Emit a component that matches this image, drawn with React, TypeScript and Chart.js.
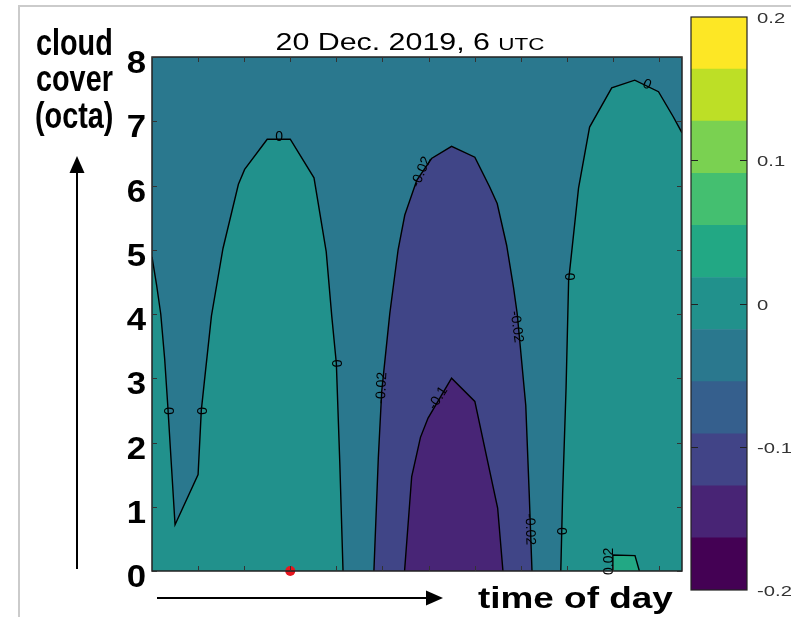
import React, { useEffect, useRef } from 'react';
import { Chart, registerables } from 'chart.js';

Chart.register(...registerables);

// ---------- axes ----------
const hourMin = 0;
const hourMax = 23;
const octaMin = 0;
const octaMax = 8;
const xTickHours = [2, 4, 6, 8, 10, 12, 14, 16, 18, 20, 22];
const yTickOctas = [0, 1, 2, 3, 4, 5, 6, 7, 8];
const yTickLabels = ['0', '1', '2', '3', '4', '5', '6', '7', '8'];

// ---------- contour lines (hour, octa) ----------
const zeroContourWest: number[][] = [
  [0, 4.89], [0.2, 4.45], [0.38, 4.0], [0.55, 3.3], [0.68, 2.6], [0.85, 1.6], [1.0, 0.72],
  [2.0, 1.5], [2.14, 2.5], [2.27, 2.94], [2.58, 3.97], [3.08, 5.02], [3.75, 6.02], [4.02, 6.25],
  [5.0, 6.72], [6.0, 6.72], [7.03, 6.12], [7.56, 4.97], [7.8, 3.97], [8.0, 3.23], [8.15, 1.68], [8.29, 0],
];
const zeroWestClosure: number[][] = [[0, 0]];

const minus002Contour: number[][] = [
  [9.63, 0], [9.82, 1.75], [9.97, 2.8], [10.32, 4.01], [10.68, 5.0], [10.97, 5.54], [11.49, 6.08],
  [12.13, 6.42], [13.0, 6.61], [14.01, 6.44], [14.65, 5.98], [14.98, 5.72], [15.39, 5.07],
  [15.69, 4.41], [15.85, 4.0], [16.22, 2.58], [16.37, 1.2], [16.49, 0],
];

const minus01Contour: number[][] = [
  [10.96, 0], [11.27, 1.47], [11.65, 2.08], [11.98, 2.38], [13.0, 3.0], [14.01, 2.64],
  [14.54, 1.75], [15.0, 0.98], [15.23, 0],
];

const zeroContourEast: number[][] = [
  [17.74, 0], [17.82, 1.2], [17.97, 2.86], [18.08, 4.52], [18.51, 5.96], [18.99, 6.91],
  [19.95, 7.52], [20.95, 7.64], [21.98, 7.46], [22.62, 7.07], [23, 6.82],
];
const zeroEastClosure: number[][] = [[23, 0]];

const plus002Contour: number[][] = [[20, 0], [20, 0.25], [20.96, 0.24], [21.15, 0]];

// ---------- contour labels ----------
const contourLabelTexts = ['0', '0', '0', '0', '0', '0', '0', '-0.02', '-0.02', '-0.02', '-0.02', '-0.1', '0.02'];
const contourLabelHours = [0.69, 2.14, 5.52, 8.0, 18.08, 17.75, 21.48, 9.97, 11.69, 15.82, 16.4, 12.42, 19.84];
const contourLabelOctas = [2.49, 2.49, 6.75, 3.23, 4.58, 0.62, 7.57, 2.85, 6.21, 3.8, 0.65, 2.69, 0.15];
const contourLabelAngles = [90, 90, 0, 90, 90, 90, 25, -87, -67, 82, 88, -58, -90];

// ---------- marker ----------
const markerHours = [6];
const markerOctas = [0];

// ---------- region colours ----------
const backgroundColor = '#2A788E';
const zeroRegionColor = '#21918C';
const minus002RegionColor = '#404587';
const minus01RegionColor = '#482576';
const plus002RegionColor = '#22A884';

// ---------- colorbar ----------
const colorbarEdges = [-0.2, -0.16364, -0.12727, -0.09091, -0.05455, -0.01818, 0.01818, 0.05455, 0.09091, 0.12727, 0.16364, 0.2];
const colorbarColors = ['#440154', '#482475', '#414487', '#355F8D', '#2A788E', '#21918C', '#22A884', '#44BF70', '#7AD151', '#BDDF26', '#FDE725'];
const colorbarTicks = [-0.2, -0.1, 0, 0.1, 0.2];
const colorbarTickLabels = ['-0.2', '-0.1', '0', '0.1', '0.2'];

const FONT = "'Liberation Sans', Arial, Helvetica, sans-serif";

const toPts = (arr: number[][]) => arr.map(([x, y]) => ({ x, y }));

function fillDs(pts: number[][], color: string, order: number) {
  return {
    data: toPts(pts), fill: 'shape', backgroundColor: color, borderWidth: 0,
    pointRadius: 0, tension: 0, order,
  };
}
function lineDs(pts: number[][], order: number) {
  return {
    data: toPts(pts), fill: false, borderColor: '#000', borderWidth: 1.4,
    pointRadius: 0, tension: 0, order,
  };
}

function drawArrow(ctx: CanvasRenderingContext2D, x1: number, y1: number, x2: number, y2: number) {
  const ang = Math.atan2(y2 - y1, x2 - x1);
  const hl = 17, hw = 7.5;
  const bx = x2 - hl * Math.cos(ang), by = y2 - hl * Math.sin(ang);
  ctx.save();
  ctx.strokeStyle = '#000';
  ctx.fillStyle = '#000';
  ctx.lineWidth = 2;
  ctx.beginPath();
  ctx.moveTo(x1, y1);
  ctx.lineTo(bx, by);
  ctx.stroke();
  ctx.beginPath();
  ctx.moveTo(x2, y2);
  ctx.lineTo(bx + hw * Math.sin(ang), by - hw * Math.cos(ang));
  ctx.lineTo(bx - hw * Math.sin(ang), by + hw * Math.cos(ang));
  ctx.closePath();
  ctx.fill();
  ctx.restore();
}

function scaledText(ctx: CanvasRenderingContext2D, text: string, x: number, y: number, font: string, sx: number, align: CanvasTextAlign) {
  ctx.save();
  ctx.font = font;
  ctx.textAlign = align;
  ctx.textBaseline = 'alphabetic';
  ctx.translate(x, y);
  ctx.scale(sx, 1);
  ctx.fillText(text, 0, 0);
  ctx.restore();
}

const mainPlugin = {
  id: 'contourDecor',
  beforeDatasetsDraw(chart: any) {
    const { ctx, chartArea: a } = chart;
    ctx.save();
    ctx.fillStyle = backgroundColor;
    ctx.fillRect(a.left, a.top, a.right - a.left, a.bottom - a.top);
    ctx.restore();
  },
  afterDraw(chart: any) {
    const { ctx, chartArea: a } = chart;
    const xs = chart.scales.x;
    const ys = chart.scales.y;

    // contour labels
    ctx.save();
    ctx.fillStyle = '#000';
    ctx.font = `14px ${FONT}`;
    ctx.textAlign = 'center';
    ctx.textBaseline = 'middle';
    contourLabelTexts.forEach((t, i) => {
      const px = xs.getPixelForValue(contourLabelHours[i]);
      const py = ys.getPixelForValue(contourLabelOctas[i]);
      ctx.save();
      ctx.translate(px, py);
      ctx.rotate((contourLabelAngles[i] * Math.PI) / 180);
      ctx.fillText(t, 0, 0);
      ctx.restore();
    });
    ctx.restore();

    // frame
    ctx.save();
    ctx.strokeStyle = '#222';
    ctx.lineWidth = 1.5;
    ctx.strokeRect(a.left, a.top, a.right - a.left, a.bottom - a.top);
    // inward ticks
    ctx.lineWidth = 1;
    ctx.strokeStyle = '#333';
    ctx.beginPath();
    xTickHours.forEach((h) => {
      const px = Math.round(xs.getPixelForValue(h)) + 0.5;
      ctx.moveTo(px, a.bottom); ctx.lineTo(px, a.bottom - 5);
      ctx.moveTo(px, a.top); ctx.lineTo(px, a.top + 5);
    });
    yTickOctas.forEach((v) => {
      const py = Math.round(ys.getPixelForValue(v)) + 0.5;
      ctx.moveTo(a.left, py); ctx.lineTo(a.left + 5, py);
      ctx.moveTo(a.right, py); ctx.lineTo(a.right - 5, py);
    });
    ctx.stroke();
    ctx.restore();

    // y tick labels
    ctx.fillStyle = '#000';
    yTickOctas.forEach((v, i) => {
      const py = ys.getPixelForValue(v);
      scaledText(ctx, yTickLabels[i], a.left - 6, py + 16, `bold 31px ${FONT}`, 1.12, 'right');
    });

    // title
    ctx.save();
    const sx = 1.32;
    ctx.font = `23px ${FONT}`;
    const w1 = ctx.measureText('20 Dec. 2019, 6 ').width;
    ctx.font = `17px ${FONT}`;
    const w2 = ctx.measureText('UTC').width;
    const total = (w1 + w2) * sx;
    const startX = 410 - total / 2;
    ctx.restore();
    scaledText(ctx, '20 Dec. 2019, 6 ', startX, 49.5, `23px ${FONT}`, sx, 'left');
    scaledText(ctx, 'UTC', startX + w1 * sx, 49.5, `17px ${FONT}`, sx, 'left');

    // y axis label
    const yl = `bold 36px ${FONT}`;
    scaledText(ctx, 'cloud', 36, 55, yl, 0.8, 'left');
    scaledText(ctx, 'cover', 36, 91, yl, 0.8, 'left');
    scaledText(ctx, '(octa)', 35, 128, yl, 0.8, 'left');

    // x axis label
    scaledText(ctx, 'time of day', 478, 608, `bold 30px ${FONT}`, 1.23, 'left');

    // arrows
    drawArrow(ctx, 77, 569, 77, 156);
    drawArrow(ctx, 157, 598, 443, 598);
  },
};

const colorbarPlugin = {
  id: 'colorbarDecor',
  afterDraw(chart: any) {
    const { ctx, chartArea: a } = chart;
    const ys = chart.scales.y;
    ctx.save();
    ctx.strokeStyle = '#222';
    ctx.lineWidth = 1.2;
    ctx.strokeRect(a.left, a.top, a.right - a.left, a.bottom - a.top);
    ctx.beginPath();
    colorbarTicks.forEach((v) => {
      if (v <= colorbarEdges[0] || v >= colorbarEdges[colorbarEdges.length - 1]) return;
      const py = Math.round(ys.getPixelForValue(v)) + 0.5;
      ctx.moveTo(a.left, py); ctx.lineTo(a.left + 7, py);
      ctx.moveTo(a.right, py); ctx.lineTo(a.right - 7, py);
    });
    ctx.stroke();
    ctx.restore();
    ctx.fillStyle = '#333';
    colorbarTicks.forEach((v, i) => {
      const py = ys.getPixelForValue(v);
      scaledText(ctx, colorbarTickLabels[i], a.right + 10, py + 6, `15px ${FONT}`, 1.35, 'left');
    });
  },
};

export default function App() {
  const mainRef = useRef<HTMLCanvasElement>(null);
  const cbRef = useRef<HTMLCanvasElement>(null);

  useEffect(() => {
    const main = new Chart(mainRef.current as HTMLCanvasElement, {
      type: 'line',
      data: {
        datasets: [
          fillDs([...zeroContourWest, ...zeroWestClosure], zeroRegionColor, 20),
          fillDs(minus002Contour, minus002RegionColor, 19),
          fillDs(minus01Contour, minus01RegionColor, 18),
          fillDs([...zeroContourEast, ...zeroEastClosure], zeroRegionColor, 17),
          fillDs(plus002Contour, plus002RegionColor, 16),
          lineDs(zeroContourWest, 5),
          lineDs(minus002Contour, 5),
          lineDs(minus01Contour, 5),
          lineDs(zeroContourEast, 5),
          lineDs(plus002Contour, 5),
          {
            data: markerHours.map((h, i) => ({ x: h, y: markerOctas[i] })),
            showLine: false,
            pointRadius: 5,
            pointBackgroundColor: '#E8161E',
            pointBorderWidth: 0,
            clip: false,
            order: 0,
          },
        ] as any,
      },
      options: {
        responsive: false,
        maintainAspectRatio: false,
        devicePixelRatio: 1,
        animation: false,
        events: [],
        layout: { padding: { left: 152, top: 57, right: 109, bottom: 46 } },
        scales: {
          x: { type: 'linear', min: hourMin, max: hourMax, display: false },
          y: { type: 'linear', min: octaMin, max: octaMax, display: false },
        },
        plugins: { legend: { display: false }, tooltip: { enabled: false } },
      } as any,
      plugins: [mainPlugin],
    });

    const cb = new Chart(cbRef.current as HTMLCanvasElement, {
      type: 'bar',
      data: {
        labels: [''],
        datasets: colorbarColors.map((c, i) => ({
          data: [[colorbarEdges[i], colorbarEdges[i + 1]]],
          backgroundColor: c,
          borderWidth: 0,
          barPercentage: 1,
          categoryPercentage: 1,
          grouped: false,
        })) as any,
      },
      options: {
        responsive: false,
        maintainAspectRatio: false,
        devicePixelRatio: 1,
        animation: false,
        events: [],
        layout: { padding: { left: 11, top: 17, right: 44, bottom: 27 } },
        scales: {
          x: { display: false },
          y: { type: 'linear', min: -0.2, max: 0.2, display: false },
        },
        plugins: { legend: { display: false }, tooltip: { enabled: false } },
      } as any,
      plugins: [colorbarPlugin],
    });

    return () => {
      main.destroy();
      cb.destroy();
    };
  }, []);

  return (
    <div style={{ position: 'fixed', left: 0, top: 0, width: 791, height: 617, overflow: 'hidden', background: '#fff' }}>
      <div style={{ position: 'absolute', left: 18, top: 5, width: 900, height: 900, borderTop: '2px solid #cbcbcb', borderLeft: '2px solid #cbcbcb' }} />
      <canvas ref={mainRef} width={791} height={617} style={{ position: 'absolute', left: 0, top: 0 }} />
      <canvas ref={cbRef} width={111} height={617} style={{ position: 'absolute', left: 680, top: 0 }} />
    </div>
  );
}
